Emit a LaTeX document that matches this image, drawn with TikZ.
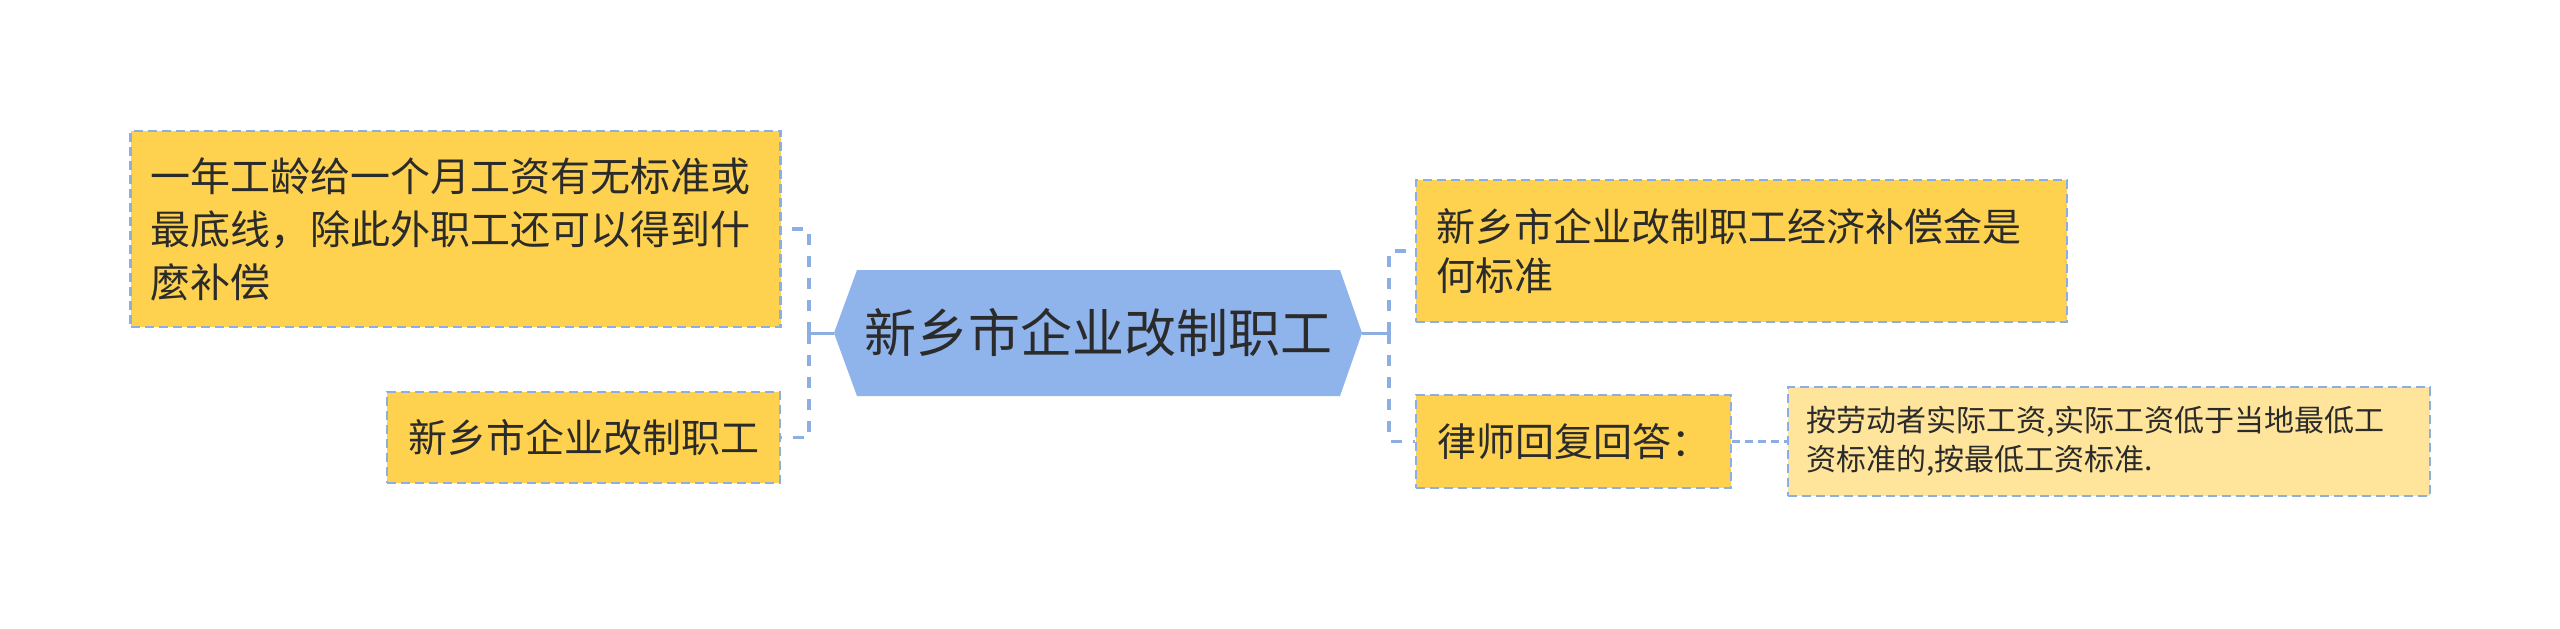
\documentclass[tikz,border=0pt]{standalone}
\usepackage{fontspec}
\setmainfont{Noto Sans CJK SC}
\definecolor{yel}{HTML}{FED24F}
\definecolor{leafc}{HTML}{FFE59B}
\definecolor{bord}{HTML}{8DAEE2}
\definecolor{cfill}{HTML}{8FB3EB}
\definecolor{txt}{HTML}{2B2B2B}
\tikzset{
  box/.style={draw=bord, line width=1.1pt, dash pattern=on 4.5pt off 2.5pt, fill=yel, text=txt, rectangle, inner sep=0pt, anchor=center},
  conn/.style={draw=bord, line width=1.7pt, dash pattern=on 5.5pt off 5.5pt},
  leafconn/.style={draw=bord, line width=1.1pt, dash pattern=on 4pt off 2.5pt},
}
\begin{document}
\begin{tikzpicture}[x=0.5pt,y=-0.5pt]
\useasboundingbox[fill=white] (0,0) rectangle (2560,628);
% center hexagon
\coordinate (Cl) at (834,333);
\coordinate (Cr) at (1362,333);
\fill[cfill] (Cl) -- (857,270) -- (1340,270) -- (Cr) -- (1340,396) -- (857,396) -- cycle;
\node[text=txt, font=\fontsize{26pt}{30pt}\selectfont] (C) at (1098,333) {新乡市企业改制职工};
% left children
\node[box, minimum width=325pt, minimum height=98pt, text width=305pt, align=left,
      font=\fontsize{20pt}{26.5pt}\selectfont] (L1) at (455.5,229)
  {一年工龄给一个月工资有无标准或\\最底线，除此外职工还可以得到什\\麼补偿};
\node[box, minimum width=196.5pt, minimum height=45.5pt,
      font=\fontsize{19.5pt}{24pt}\selectfont] (L2) at (583.5,437.5) {新乡市企业改制职工};
% right children
\node[box, minimum width=325.5pt, minimum height=71pt, text width=305pt, align=left,
      font=\fontsize{19.5pt}{24.5pt}\selectfont] (R1) at (1741.5,251)
  {新乡市企业改制职工经济补偿金是\\何标准};
\node[box, minimum width=157.5pt, minimum height=46.5pt,
      font=\fontsize{19.5pt}{24pt}\selectfont] (R2) at (1573.5,441.5) {律师回复回答：};
\node[box, fill=leafc, minimum width=321pt, minimum height=54.5pt, text width=303pt, align=left,
      font=\fontsize{15pt}{19.5pt}\selectfont] (Lf) at (2109,441.5)
  {按劳动者实际工资,实际工资低于当地最低工\\资标准的,按最低工资标准.};
% connectors
\coordinate (lj) at (809,333);
\coordinate (rj) at (1389,333);
\draw[draw=bord, line width=1.5pt] (Cl) -- (lj);
\draw[draw=bord, line width=1.5pt] (Cr) -- (rj);
\draw[conn] (lj) |- (L1.east);
\draw[conn] (lj) |- (L2.east);
\draw[conn] (rj) |- (R1.west);
\draw[conn] (rj) |- (R2.west);
\draw[leafconn] (R2.east) -- (Lf.west);
\end{tikzpicture}
\end{document}
